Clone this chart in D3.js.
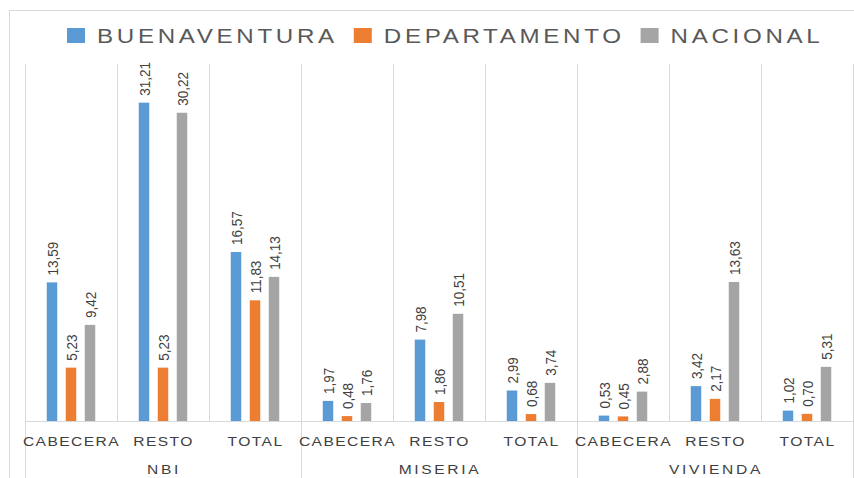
<!DOCTYPE html>
<html>
<head>
<meta charset="utf-8">
<script src="https://cdnjs.cloudflare.com/ajax/libs/d3/7.8.5/d3.min.js"></script>
<style>
  body { margin: 0; background: white; }
  svg { display: block; }
</style>
</head>
<body>
<svg id="chart" width="854" height="478"></svg>
<script>
var groups = ["NBI", "MISERIA", "VIVIENDA"];
var subCategories = ["CABECERA", "RESTO", "TOTAL"];
var seriesNames = ["BUENAVENTURA", "DEPARTAMENTO", "NACIONAL"];
var buenaventura = [13.59, 31.21, 16.57, 1.97, 7.98, 2.99, 0.53, 3.42, 1.02];
var departamento = [5.23, 5.23, 11.83, 0.48, 1.86, 0.68, 0.45, 2.17, 0.70];
var nacional = [9.42, 30.22, 14.13, 1.76, 10.51, 3.74, 2.88, 13.63, 5.31];

var colors = ["#5B9BD5", "#ED7D31", "#A5A5A5"];
var seriesValues = [buenaventura, departamento, nacional];

var props = {
    left: 25,
    right: 853,
    top: 64,
    baseline: 421,
    barWidth: 10.5,
    barStep: 19,
    gridColor: "#d9d9d9",
    textColor: "#404040",
    font: "'Liberation Sans', Arial, sans-serif"
};

// one row per category, keyed by group + sub category
var rows = [];
groups.forEach((g, gi) => {
    subCategories.forEach((c, ci) => {
        var i = gi * subCategories.length + ci;
        rows.push({
            key: g + "-" + c,
            group: g,
            label: c,
            values: seriesNames.map((s, si) => ({ series: s, si: si, value: seriesValues[si][i] }))
        });
    });
});

var svg = d3.select("#chart");

// outer chart frame
svg.append("rect")
    .attr("x", 9.5)
    .attr("y", 10.5)
    .attr("width", 900)
    .attr("height", 500)
    .attr("fill", "white")
    .attr("stroke", props.gridColor);

var x = d3.scaleBand()
    .domain(rows.map(d => d.key))
    .range([props.left, props.right])
    .padding(0);

var xSeries = d3.scalePoint()
    .domain(seriesNames)
    .range([x.bandwidth() / 2 - props.barStep, x.bandwidth() / 2 + props.barStep]);

var y = d3.scaleLinear()
    .domain([0, 35])
    .range([props.baseline, props.top]);

// vertical grid lines between categories
var bounds = rows.map(d => x(d.key)).concat([props.right]);
svg.append("g")
    .selectAll("line")
    .data(bounds)
    .enter()
    .append("line")
    .attr("x1", d => Math.round(d) + 0.5)
    .attr("x2", d => Math.round(d) + 0.5)
    .attr("y1", props.top)
    .attr("y2", (d, i) => i % subCategories.length === 0 ? 478 : props.baseline)
    .attr("stroke", props.gridColor);

// baseline
svg.append("line")
    .attr("x1", props.left)
    .attr("x2", props.right)
    .attr("y1", props.baseline + 0.5)
    .attr("y2", props.baseline + 0.5)
    .attr("stroke", props.gridColor);

var cat = svg.append("g")
    .selectAll(".cat")
    .data(rows)
    .enter()
    .append("g")
    .attr("class", "cat")
    .attr("transform", d => `translate(${x(d.key)},0)`);

cat.selectAll("rect")
    .data(d => d.values)
    .enter()
    .append("rect")
    .attr("x", d => xSeries(d.series) - props.barWidth / 2)
    .attr("y", d => y(d.value))
    .attr("width", props.barWidth)
    .attr("height", d => props.baseline - y(d.value))
    .attr("fill", d => colors[d.si]);

cat.selectAll("text.val")
    .data(d => d.values)
    .enter()
    .append("text")
    .attr("class", "val")
    .attr("transform", d => `translate(${xSeries(d.series)},${y(d.value) - 7}) rotate(-90) scale(0.93,1.06)`)
    .attr("dy", "0.36em")
    .attr("font-family", props.font)
    .attr("font-size", 14.5)
    .attr("fill", props.textColor)
    .text(d => d.value.toFixed(2).replace(".", ","));

// category labels (the source text is stretched sideways)
cat.append("text")
    .attr("transform", `translate(${x.bandwidth() / 2 + 0.5},446) scale(1.2,1)`)
    .attr("text-anchor", "middle")
    .attr("font-family", props.font)
    .attr("font-size", 13)
    .attr("letter-spacing", 1.2)
    .attr("fill", props.textColor)
    .text(d => d.label);

// group labels
svg.append("g")
    .selectAll("text")
    .data(groups)
    .enter()
    .append("text")
    .attr("transform", d => `translate(${(x(d + "-" + subCategories[0]) + x(d + "-" + subCategories[2]) + x.bandwidth()) / 2 + 1},474) scale(1.2,1)`)
    .attr("text-anchor", "middle")
    .attr("font-family", props.font)
    .attr("font-size", 13)
    .attr("letter-spacing", 2.2)
    .attr("fill", props.textColor)
    .text(d => d);

// legend
var legend = svg.append("g").attr("class", "legend");
var lx = 67;
var legendStretch = 1.15;
seriesNames.forEach((s, i) => {
    var item = legend.append("g").attr("transform", `translate(${lx},0)`);
    item.append("rect")
        .attr("x", 0)
        .attr("y", 28)
        .attr("width", 18)
        .attr("height", 15)
        .attr("fill", colors[i]);
    var t = item.append("text")
        .attr("transform", `translate(30,43) scale(${legendStretch},1)`)
        .attr("font-family", props.font)
        .attr("font-size", 21)
        .attr("letter-spacing", 3.2)
        .attr("fill", "#595959")
        .text(s);
    lx += 30 + t.node().getComputedTextLength() * legendStretch + 16;
});
</script>
</body>
</html>
